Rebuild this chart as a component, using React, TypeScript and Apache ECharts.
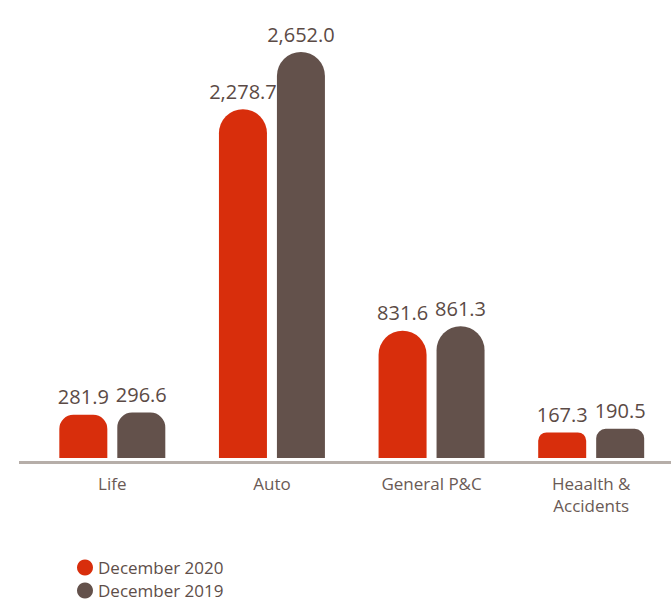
import React, { useEffect, useRef } from "react";
import * as echarts from "echarts";

const categories = ["Life", "Auto", "General P&C", "Heaalth &\nAccidents"];
const seriesNames = ["December 2020", "December 2019"];
const dec2020 = [281.9, 2278.7, 831.6, 167.3];
const dec2019 = [296.6, 2652.0, 861.3, 190.5];

const RED = "#d82e0c";
const BROWN = "#63514b";
const FONT = "'Open Sans', sans-serif";

function fmt(v: number) {
  return v.toLocaleString("en-US", { minimumFractionDigits: 1, maximumFractionDigits: 1 });
}

function items(values: number[]) {
  return values.map((v) => {
    const r = Math.min(24, v * 0.05);
    return { value: v, itemStyle: { borderRadius: [r, r, 0, 0] } };
  });
}

export default function App() {
  const ref = useRef<HTMLDivElement>(null);
  useEffect(() => {
    if (!ref.current) return;
    const chart = echarts.init(ref.current, null, { renderer: "svg" });
    const label = {
      show: true,
      position: "top",
      distance: 8,
      fontSize: 20,
      fontFamily: FONT,
      color: "#5b4a45",
      formatter: (p: any) => fmt(p.value),
    };
    const legendBase = {
      orient: "horizontal",
      left: 77,
      padding: 0,
      icon: "circle",
      itemWidth: 16,
      itemHeight: 16,
      textStyle: { fontSize: 17, lineHeight: 16, fontFamily: FONT, color: "#5e4e49" },
    };
    chart.setOption({
      animation: false,
      grid: { left: 32.5, width: 640, top: 52, bottom: 143 },
      legend: [
        { ...legendBase, top: 559, data: [seriesNames[0]] },
        { ...legendBase, top: 582, data: [seriesNames[1]] },
      ],
      xAxis: {
        type: "category",
        data: categories,
        axisLine: { show: false },
        axisTick: { show: false },
        axisLabel: {
          margin: 14,
          fontSize: 17,
          lineHeight: 22,
          fontFamily: FONT,
          color: "#6a5a55",
          interval: 0,
        },
      },
      yAxis: {
        type: "value",
        min: 0,
        max: 2652,
        show: false,
        splitLine: { show: false },
      },
      graphic: [
        {
          type: "line",
          shape: { x1: 19, y1: 462.5, x2: 671, y2: 462.5 },
          style: { stroke: "#b6aea9", lineWidth: 3 },
        },
      ],
      series: [
        {
          name: seriesNames[0],
          type: "bar",
          data: items(dec2020),
          barWidth: 48,
          barGap: "20.8%",
          itemStyle: { color: RED },
          label,
        },
        {
          name: seriesNames[1],
          type: "bar",
          data: items(dec2019),
          barWidth: 48,
          barGap: "20.8%",
          itemStyle: { color: BROWN },
          label,
        },
      ],
    });
    return () => chart.dispose();
  }, []);
  return (
    <div
      ref={ref}
      style={{ position: "fixed", left: 0, top: 0, width: 671, height: 601, background: "#fff" }}
    />
  );
}
